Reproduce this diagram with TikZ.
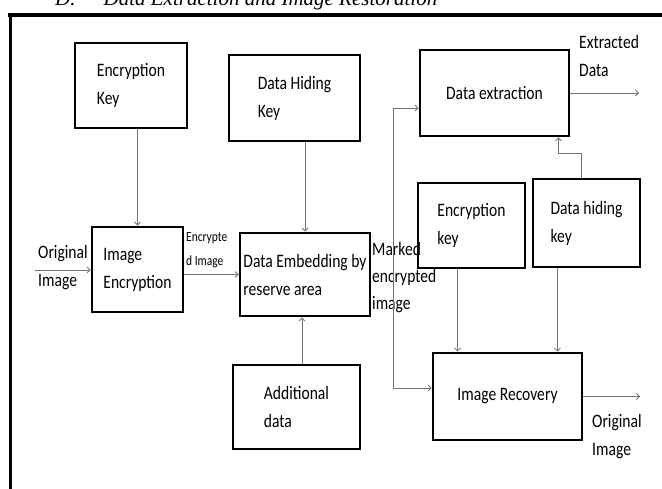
\documentclass[tikz,border=0pt]{standalone}
\usepackage{fontspec}
\setmainfont[FakeStretch=0.82]{Carlito}
\newfontfamily\headfont{Liberation Serif}
\usetikzlibrary{arrows.meta}

\begin{document}
\begin{tikzpicture}[x=1pt,y=-1pt,
    box/.style={draw,line width=2.8pt,align=left,font=\fontsize{19}{28}\selectfont},
    lbl/.style={align=left,inner sep=0pt,anchor=west,font=\fontsize{19}{28}\selectfont},
    conn/.style={draw=black!55,line width=0.8pt,-{Straight Barb[length=3pt,width=6pt]}}]
    \useasboundingbox (0,0) rectangle (662,489);
    %\draw[help lines] (0,0) grid[step=50] (662,489);
    % heading, cut off by the page
    \node[anchor=base west,inner sep=0pt,font=\headfont\itshape\fontsize{21}{24}\selectfont] (head) at (55,6) {D.\hspace{28pt}Data Extraction and Image Restoration};
    % frame
    \draw[line width=4pt] (8,15) -- (662,15);
    \draw[line width=3pt] (10,13) -- (10,489);
    % boxes
    \node[box,minimum width=112pt,minimum height=85pt] (enckey) at (131,85.5) {Encryption\\Key};
    \node[box,minimum width=131pt,minimum height=86pt] (hidekey) at (294.5,98) {Data Hiding\\Key};
    \node[box,minimum width=149pt,minimum height=86pt] (extract) at (494.5,93) {Data extraction};
    \node[box,minimum width=91pt,minimum height=85pt] (imgenc) at (137.5,269.5) {Image\\Encryption};
    \node[box,minimum width=130pt,minimum height=83pt] (embed) at (305,274.5) {Data Embedding by\\reserve area};
    \node[box,minimum width=127pt,minimum height=84pt] (adddata) at (296.5,407) {Additional\\data};
    \node[box,minimum width=107pt,minimum height=85pt] (enckeyb) at (471.5,225.5) {Encryption\\key};
    \node[box,minimum width=107pt,minimum height=88pt] (hidekeyb) at (586.5,223) {Data hiding\\key};
    \node[box,minimum width=149pt,minimum height=87pt] (recover) at (507.5,396.5) {Image Recovery};
    % labels
    \node[lbl] (origin) at (38,268) {Original\\Image};
    \node[lbl,font=\fontsize{14}{24}\selectfont] (encimg) at (186,250) {Encrypte\\d Image};
    \node[lbl,font=\fontsize{19}{27}\selectfont] (marked) at (372,278) {Marked\\encrypted\\image};
    \node[lbl] (extdata) at (579,56) {Extracted\\Data};
    \node[lbl] (origout) at (592,436.5) {Original\\Image};
    % end points
    \coordinate (in) at (35,270);
    \coordinate (mtop) at (393,108);
    \coordinate (mbot) at (393,388);
    \coordinate (extout) at (639,93);
    \coordinate (recout) at (640,396.5);
    \coordinate (ra) at ([xshift=26pt]recover.north west);
    \coordinate (rb) at ([xshift=-26pt]recover.north east);
    \coordinate (ea) at ([xshift=-12pt]extract.south east);
    % connectors
    \draw[conn] (in) -- (in -| imgenc.west);
    \draw[conn] (enckey.south -| imgenc.north) -- (imgenc.north);
    \draw[conn] (imgenc.east |- embed.west) -- (embed.west);
    \draw[conn] (hidekey.south -| embed.north) -- (embed.north);
    \draw[conn] (adddata.north -| 302,0) -- (embed.south -| 302,0);
    \draw[conn] (mbot) -- (mtop) -- (mtop -| extract.west);
    \draw[conn] (mtop) -- (mbot) -- (mbot -| recover.west);
    \draw[conn] (extract.east) -- (extout);
    \draw[conn] (recover.east) -- (recout);
    \draw[conn] (enckeyb.south -| ra) -- (ra);
    \draw[conn] (hidekeyb.south -| rb) -- (rb);
    \draw[conn] ([xshift=-5pt]hidekeyb.north) -- ++(0,-24) -| (ea);
\end{tikzpicture}
\end{document}
